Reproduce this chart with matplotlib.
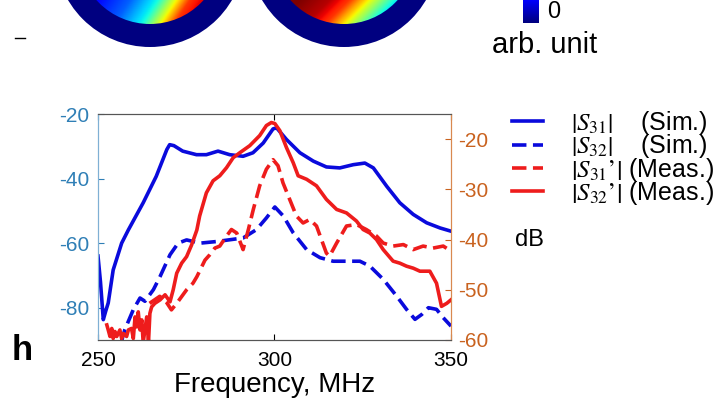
import matplotlib
matplotlib.use("Agg")
import matplotlib.pyplot as plt
from matplotlib.patches import Circle
import numpy as np

plt.rcParams['font.family'] = ['Liberation Sans', 'DejaVu Sans']
plt.rcParams['mathtext.fontset'] = 'stix'
plt.rcParams['axes.unicode_minus'] = False

# --- data ---
# |S31| simulated, left axis (dB)
f_s31 = [250, 250.7, 251.5, 252.2, 252.9, 254.3, 256.7, 258.6, 262.8, 266.5, 269.5, 270.3,
         271.5, 274, 277.9, 280.7, 284, 287.3, 291.1, 293.9, 296.8, 299.6, 300.6, 303.4,
         307.2, 311, 314.7, 318.5, 322.3, 325.6, 328, 331.8, 335.5, 339.3, 343.1, 346.9, 350]
s31 = [-64, -72, -83.7, -81, -78.5, -68.3, -60, -55.9, -47.5, -39.3, -31, -29.5,
       -29.8, -31.5, -32.6, -32.6, -31.5, -32.6, -33.1, -32, -29, -24.6, -24.3, -27.9,
       -32, -34.6, -36.4, -36.7, -35.7, -35.2, -36.7, -42.4, -47.5, -51.1, -53.7, -55.3, -56.3]

# |S32| simulated, left axis (dB)
f_s32 = [256.5, 257.6, 260, 261.9, 263.3, 265.7, 267.6, 270.4, 272.7, 275.1, 278.9, 283.6,
         287, 291.1, 294.9, 297.7, 300.1, 302.5, 305.3, 309.1, 312.9, 316.6, 320.4, 324.2,
         327, 330.8, 334.6, 337.4, 339.8, 341.7, 343.6, 345.9, 347.8, 350]
s32 = [-91, -86.8, -80.6, -77, -78, -74.4, -70.3, -63.6, -60, -59, -60, -59.5,
       -59, -58.4, -55.8, -52.2, -48.8, -51.6, -56.8, -62, -64.5, -65.6, -65.6, -65.6,
       -67.1, -71.2, -76.4, -80.5, -83.6, -82.1, -80, -80.5, -83.1, -85.7]

# |S31'| measured, right axis (dB)
f_m31 = [264.6, 267.5, 269.4, 270.8, 272.3, 275.1, 276.9, 278, 280.3, 281.7, 283.1, 284.5,
         286.4, 287.8, 289.3, 291.1, 292.6, 294, 295.8, 297.7, 299.6, 301, 302.4, 304.3,
         306.2, 308.1, 310, 311.9, 314.7, 315.6, 317.6, 320.4, 323.2, 326, 328.9, 330.8,
         333.6, 336.5, 339.3, 342.1, 344.9, 347.8, 350]
m31 = [-52.7, -51.3, -52.5, -54, -52.7, -50, -48.7, -47.4, -44.1, -43, -41.7, -41.3,
       -39.3, -38, -38.7, -42, -38, -34, -29.3, -26, -24.1, -25.3, -28.7, -32,
       -35.3, -36.7, -36, -37.3, -42.7, -43.3, -40.7, -37.3, -37, -38, -39.3, -40.7,
       -41.3, -41, -42, -41.3, -41.7, -41.3, -42.3]

# |S32'| measured, right axis (dB)
f_m32 = [252.5, 252.9, 253.4, 253.9, 254.3, 254.8, 255.3, 256.2, 256.7, 257.2, 258.1, 258.6,
         259.5, 260.0, 260.5, 261.0, 261.4, 261.9, 262.4, 262.8, 263.8, 264.3, 264.7, 265.2,
         266.1, 267.6, 269.0, 270.4, 271.3, 272.3, 273.7, 275.1, 276.5, 278.0, 278.8, 280.7,
         282.6, 284.5, 286.4, 288.3, 290.2, 293, 295.8, 297.7, 299.1, 300.1, 301.5, 303.4,
         305.3, 306.7, 309.1, 311.9, 314.7, 317.6, 320.4, 323.2, 325.1, 327, 328.9, 330.8,
         333.6, 335.5, 337.4, 339.3, 341.2, 344, 345.9, 347.3, 348.8, 350]
m32 = [-57.0, -58.0, -59.3, -57.7, -59.7, -58.3, -59.3, -58.0, -59.7, -58.7, -59.3, -58.0,
       -57.7, -59.7, -55.4, -57.4, -54.4, -58.0, -56.0, -60.5, -55.4, -60.5, -54.7, -53.4,
       -52.7, -52.0, -51.0, -52.4, -50.0, -46.7, -44.7, -43.4, -41.1, -38.1, -35.3, -30.7,
       -28.3, -27.3, -25.7, -23.7, -22.7, -21.3, -19.3, -17.3, -16.7, -16.9, -18.3, -21.7,
       -24.7, -27.3, -28, -29.3, -32, -34, -34.7, -36.3, -38, -38.7, -40, -42,
       -44.3, -44.7, -45.3, -45.7, -46.3, -46.3, -48.7, -53.3, -52.7, -52]

labels = [r"$\left|S_{31}\right|$    (Sim.)", r"$\left|S_{32}\right|$    (Sim.)",
          r"$\left|S_{31}{}’\right|$ (Meas.)", r"$\left|S_{32}{}’\right|$ (Meas.)"]
xticks = [250, 300, 350]
lticks = [-20, -40, -60, -80]
rticks = [-20, -30, -40, -50, -60]

W, H = 719, 398
fig = plt.figure(figsize=(W / 100, H / 100), dpi=100)

# cut-off pieces of the panels above (field maps + colorbar)
top = fig.add_axes([0, 0, 1, 1])
top.axis('off')
jet = plt.get_cmap('jet')

def field_disc(cx, s_pts, v_pts, k):
    cy, r_out, r_in = -48, 95, 72
    top.add_patch(Circle((cx, cy), r_out, color=jet(0.0), lw=0, zorder=1))
    xs = np.linspace(cx - r_in, cx + r_in, 200)
    ys = np.linspace(cy - r_in, cy + r_in, 200)
    xx, yy = np.meshgrid(xs, ys)
    v = np.interp(xx + k * yy, s_pts, v_pts)
    im = top.imshow(v, cmap='jet', vmin=0, vmax=1, origin='lower', zorder=2,
                    extent=(xs[0], xs[-1], ys[0], ys[-1]), interpolation='bilinear')
    im.set_clip_path(Circle((cx, cy), r_in, transform=top.transData))

field_disc(150, [95, 130, 158, 175, 190, 210], [0.12, 0.22, 0.375, 0.62, 0.85, 0.95], 0.65)
field_disc(344, [300, 330, 350, 372, 395, 420], [1.0, 0.95, 0.85, 0.62, 0.375, 0.2], 1.0)

cb = np.linspace(0.11, 0.0, 50)[:, None]
top.imshow(cb, cmap='jet', vmin=0, vmax=1, extent=(523, 539, 23, 0), aspect='auto', zorder=2)
top.set_xlim(0, W)
top.set_ylim(H, 0)
top.text(547, 12, "0", fontsize=17, va='center', ha='left')
top.text(545, 45, "arb. unit", fontsize=21, va='center', ha='center')
top.plot([15, 25], [38, 38], color='black', lw=1)

# main panel
ax = fig.add_axes([98 / W, 1 - 340 / H, 353 / W, 226 / H])
ax2 = ax.twinx()

blue = '#0a0adc'
red = '#ee1c1c'
lcol = '#2f7fb6'
rcol = '#c9621f'

l1, = ax.plot(f_s31, s31, color=blue, lw=2.6)
l2, = ax.plot(f_s32, s32, color=blue, lw=2.6, dashes=(4, 1.8))
l3, = ax2.plot(f_m31, m31, color=red, lw=2.6, dashes=(4, 1.8))
l4, = ax2.plot(f_m32, m32, color=red, lw=2.6)

ax.set_xlim(250, 350)
ax.set_ylim(-90, -20)
ax2.set_ylim(-60, -15)
ax.set_xticks(xticks)
ax.set_yticks(lticks)
ax2.set_yticks(rticks)

ax.tick_params(axis='x', direction='in', length=4, labelsize=15, pad=8, top=True)
ax.tick_params(axis='y', direction='in', length=4, labelsize=15, pad=6,
               colors=lcol)
ax2.tick_params(axis='y', direction='in', length=4, labelsize=15, pad=5,
                colors=rcol)
for a in (ax, ax2):
    a.spines['top'].set_color('#555555')
    a.spines['bottom'].set_color('#555555')
    a.spines['left'].set_color('#7fb0d4')
    a.spines['right'].set_color('#d9894f')

ax.set_xlabel("Frequency, MHz", fontsize=20, labelpad=1)

ax2.legend([l1, l2, l3, l4], labels, loc='upper left',
           bbox_to_anchor=(512 / W, 1 - 109 / H), bbox_transform=fig.transFigure,
           frameon=False, fontsize=18, handlelength=1.25, handletextpad=1.1,
           labelspacing=-0.19, borderaxespad=0, borderpad=0)

fig.text(515 / W, 1 - 240 / H, "dB", fontsize=17, va='center', ha='left')
fig.text(12 / W, 1 - 360 / H, "h", fontsize=25, fontweight='bold', va='baseline')

fig.savefig("out.png", dpi=100)
